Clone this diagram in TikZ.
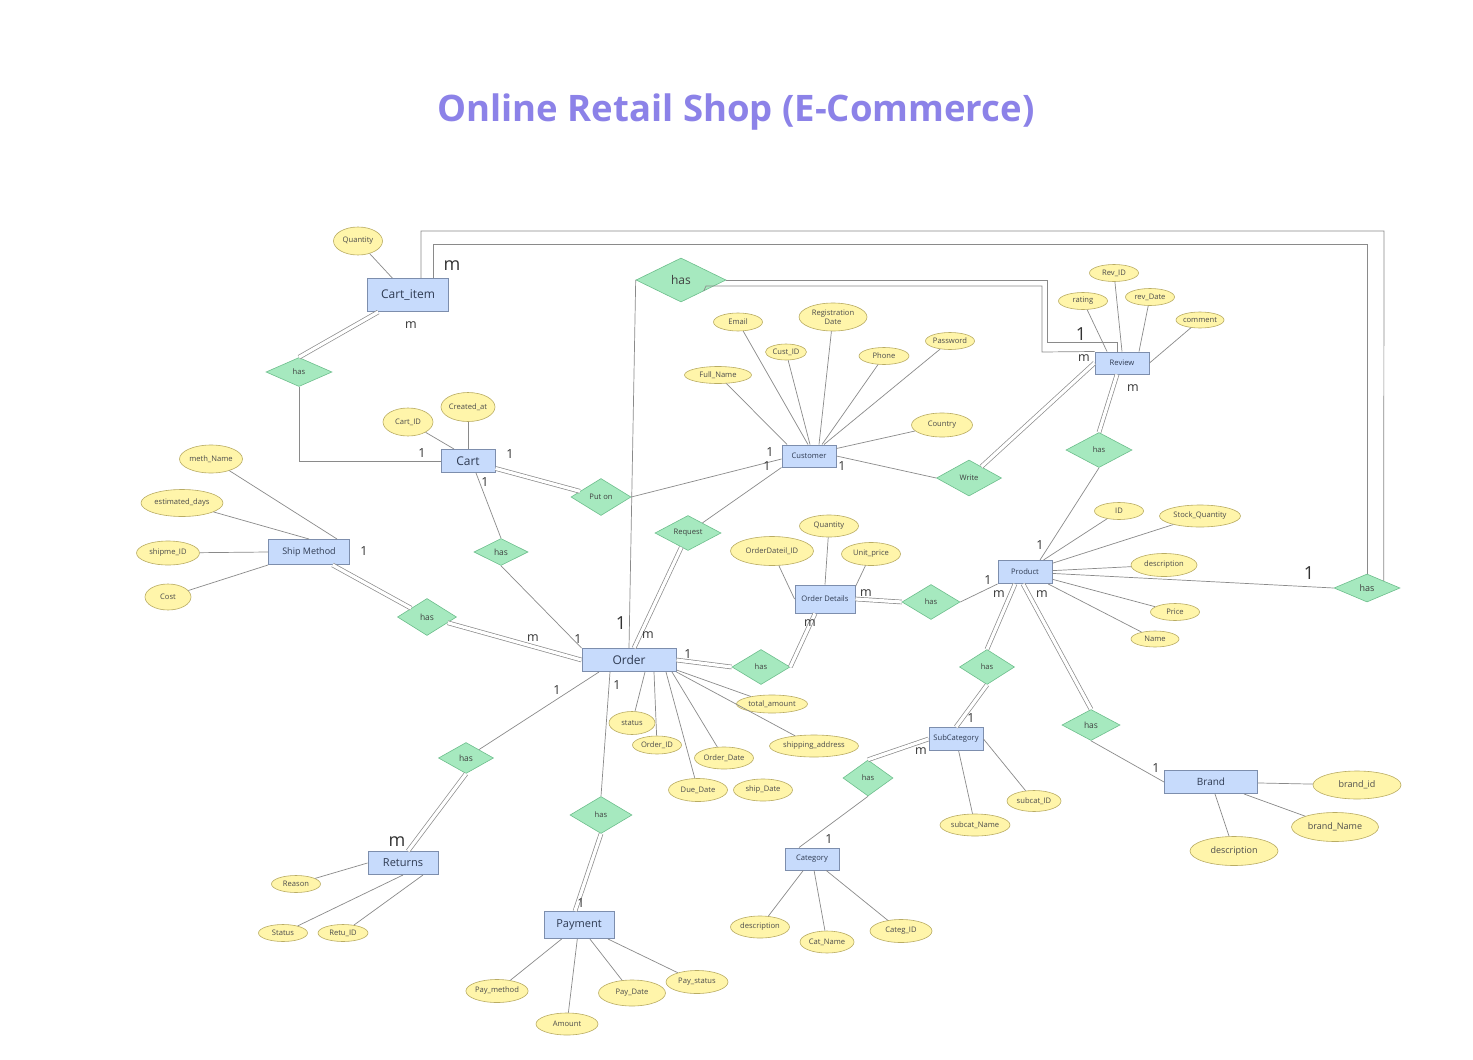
\documentclass[tikz,border=0pt]{standalone}
\usepackage{fontspec}
\setmainfont{Open Sans}
\usetikzlibrary{shapes.geometric,calc}
\definecolor{entfill}{HTML}{C7DBFC}
\definecolor{entdraw}{HTML}{7D8EAD}
\definecolor{relfill}{HTML}{A6E9BF}
\definecolor{reldraw}{HTML}{6DBE8C}
\definecolor{attfill}{HTML}{FFF5AA}
\definecolor{attdraw}{HTML}{B9AC63}
\definecolor{linkgray}{HTML}{8A8A8A}
\definecolor{titlepurple}{HTML}{8C82E8}
\definecolor{inkdark}{HTML}{2F3B52}

\begin{document}
\begin{tikzpicture}[x=1pt,y=-1pt,
  entity/.style 2 args={draw=entdraw, line width=1pt, fill=entfill, minimum width=#1, minimum height=#2, inner sep=0pt, text=inkdark},
  rel/.style 2 args={diamond, aspect=3, draw=reldraw, line width=0.6pt, fill=relfill, minimum width=#1, minimum height=#2, inner sep=0pt, text=black!75},
  attr/.style 2 args={ellipse, draw=attdraw, line width=0.6pt, fill=attfill, minimum width=#1, minimum height=#2, inner sep=0pt, text=black!70},
  link/.style={draw=linkgray, line width=0.7pt},
  dlink/.style={draw=linkgray, line width=0.7pt, double=white, double distance=3.2pt},
  card/.style={text=black!80, inner sep=0pt, font=\fontsize{12.5}{14}\selectfont},
  bigcard/.style={text=black!80, inner sep=0pt, font=\fontsize{18}{20}\selectfont},
  f7/.style={font=\fontsize{7.6}{9}\selectfont},
  f8/.style={font=\fontsize{8.5}{10}\selectfont},
  f9/.style={font=\fontsize{9}{11}\selectfont},
  f10/.style={font=\fontsize{10}{12}\selectfont},
  f11/.style={font=\fontsize{11}{13}\selectfont},
  f12/.style={font=\fontsize{12}{14}\selectfont}]

\useasboundingbox[fill=white] (0,0) rectangle (1473,1060);

\node[text=titlepurple, font=\fontsize{36.5}{44}\selectfont\bfseries] (title) at (736,112) {Online Retail Shop (E-Commerce)};

% entities
\node[entity={81}{33}, f12] (cartitem) at (408,295) {Cart\_item};
\node[entity={54}{23}, f12] (cart) at (468,461) {Cart};
\node[entity={54}{22}, f7] (customer) at (809,456) {Customer};
\node[entity={54}{22}, f7] (review) at (1122,363) {Review};
\node[entity={81}{25}, f9] (shipmethod) at (309,552) {Ship Method};
\node[entity={94}{23}, f12] (order) at (629,660) {Order};
\node[entity={60}{28}, f7] (orderdetails) at (825,599) {Order Details};
\node[entity={54}{23}, f7] (product) at (1025,572) {Product};
\node[entity={54}{23}, f7] (subcategory) at (956,739) {SubCategory};
\node[entity={54}{22}, f7] (category) at (812,859) {Category};
\node[entity={93}{23}, f10] (brand) at (1211,782) {Brand};
\node[entity={70}{23}, f11] (returns) at (403,863) {Returns};
\node[entity={70}{27}, f11] (payment) at (579,925) {Payment};

% relationships
\node[rel={90}{44}, f12] (hasrev) at (681,280) {has};
\node[rel={66}{29}, f7] (hascart) at (299,372) {has};
\node[rel={60}{37}, f7] (puton) at (601,497) {Put on};
\node[rel={66}{35}, f7] (request) at (688,533) {Request};
\node[rel={65}{36}, f7] (write) at (969,478) {Write};
\node[rel={66}{35}, f7] (hasreview) at (1099,450) {has};
\node[rel={59}{37}, f8] (hasship) at (427,617) {has};
\node[rel={54}{27}, f8] (hascartorder) at (501,552) {has};
\node[rel={58}{35}, f7] (hasdetails) at (761,667) {has};
\node[rel={58}{35}, f7] (hasprod) at (931,602) {has};
\node[rel={55}{35}, f7] (hassub) at (987,667) {has};
\node[rel={58}{31}, f8] (hasbrand) at (1091,725) {has};
\node[rel={66}{28}, f9] (hasitem) at (1367,588) {has};
\node[rel={50}{36}, f7] (hascat) at (868,778) {has};
\node[rel={55}{31}, f8] (hasreturn) at (466,758) {has};
\node[rel={62}{37}, f7] (haspay) at (601,815) {has};

% attributes
\node[attr={49}{28}, f7] (ciqty) at (358,241) {Quantity};
\node[attr={50}{28}, f7] (cartid) at (408,422) {Cart\_ID};
\node[attr={54}{29}, f7] (createdat) at (468,407) {Created\_at};
\node[attr={49}{18}, f7] (email) at (738,322) {Email};
\node[attr={68}{28}, f7, align=center] (regdate) at (833,317) {Registration\\Date};
\node[attr={41}{16}, f7] (custid) at (786,352) {Cust\_ID};
\node[attr={50}{17}, f7] (phone) at (884,356) {Phone};
\node[attr={49}{17}, f7] (password) at (950,341) {Password};
\node[attr={67}{17}, f7] (fullname) at (718,375) {Full\_Name};
\node[attr={61}{24}, f7] (country) at (942,425) {Country};
\node[attr={49}{17}, f7] (revid) at (1114,273) {Rev\_ID};
\node[attr={49}{17}, f7] (rating) at (1083,301) {rating};
\node[attr={49}{17}, f7] (revdate) at (1150,297) {rev\_Date};
\node[attr={48}{16}, f7] (comment) at (1200,320) {comment};
\node[attr={49}{17}, f7] (prodid) at (1119,511) {ID};
\node[attr={81}{22}, f7] (stockqty) at (1200,516) {Stock\_Quantity};
\node[attr={66}{23}, f7] (proddesc) at (1164,565) {description};
\node[attr={49}{17}, f7] (price) at (1175,612) {Price};
\node[attr={48}{16}, f7] (prodname) at (1155,639) {Name};
\node[attr={54}{21}, f7] (subcatid) at (1034,801) {subcat\_ID};
\node[attr={70}{22}, f7] (subcatname) at (975,825) {subcat\_Name};
\node[attr={88}{28}, f9] (brandid) at (1357,785) {brand\_id};
\node[attr={87}{29}, f9] (brandname) at (1335,827) {brand\_Name};
\node[attr={88}{29}, f9] (branddesc) at (1234,851) {description};
\node[attr={63}{28}, f7] (methname) at (211,459) {meth\_Name};
\node[attr={82}{27}, f7] (estdays) at (182,503) {estimated\_days};
\node[attr={63}{24}, f7] (shipmeid) at (168,553) {shipme\_ID};
\node[attr={46}{26}, f7] (cost) at (168,597) {Cost};
\node[attr={83}{29}, f7] (odid) at (772,551) {OrderDateil\_ID};
\node[attr={59}{22}, f7] (odqty) at (829,526) {Quantity};
\node[attr={59}{23}, f7] (unitprice) at (871,554) {Unit\_price};
\node[attr={71}{18}, f7] (totalamt) at (772,704) {total\_amount};
\node[attr={46}{23}, f7] (status) at (632,723) {status};
\node[attr={49}{18}, f7] (orderid) at (657,745) {Order\_ID};
\node[attr={59}{22}, f7] (orderdate) at (724,758) {Order\_Date};
\node[attr={89}{22}, f7] (shipaddr) at (814,746) {shipping\_address};
\node[attr={59}{23}, f7] (duedate) at (698,790) {Due\_Date};
\node[attr={59}{22}, f7] (shipdate) at (763,790) {ship\_Date};
\node[attr={49}{17}, f7] (reason) at (296,884) {Reason};
\node[attr={49}{17}, f7] (retstatus) at (283,933) {Status};
\node[attr={50}{17}, f7] (retuid) at (343,933) {Retu\_ID};
\node[attr={62}{23}, f7] (paymethod) at (497,991) {Pay\_method};
\node[attr={62}{22}, f7] (amount) at (567,1024) {Amount};
\node[attr={67}{26}, f7] (paydate) at (632,993) {Pay\_Date};
\node[attr={62}{23}, f7] (paystatus) at (697,982) {Pay\_status};
\node[attr={59}{22}, f7] (catdesc) at (760,927) {description};
\node[attr={54}{22}, f7] (catname) at (827,942) {Cat\_Name};
\node[attr={62}{23}, f7] (categid) at (901,931) {Categ\_ID};

% attribute lines
\draw[link] (ciqty) -- (cartitem);
\draw[link] (cartid) -- ([xshift=-14pt]cart.north);
\draw[link] (createdat) -- (cart.north);
\draw[link] (fullname) -- ([xshift=-22pt]customer.north);
\draw[link] (email) -- ([xshift=-1pt]customer.north);
\draw[link] (custid) -- ([xshift=1pt]customer.north);
\draw[link] (regdate) -- ([xshift=10pt]customer.north);
\draw[link] (phone) -- ([xshift=13pt]customer.north);
\draw[link] (password) -- ([xshift=15pt]customer.north);
\draw[link] (country) -- ([yshift=-4pt]customer.north east);
\draw[link] (rating) -- ([xshift=-15pt]review.north);
\draw[link] (revid) -- (review.north);
\draw[link] (revdate) -- ([xshift=17pt]review.north);
\draw[link] (comment) -- (review.east);
\foreach \a in {prodid,stockqty,proddesc,price,prodname}
  \draw[link] (\a) -- (product);
\draw[link] (subcatid) -- (subcategory.east);
\draw[link] (subcatname) -- (subcategory);
\foreach \a in {brandid,brandname,branddesc}
  \draw[link] (\a) -- (brand);
\draw[link] (methname) -- ([xshift=28pt]shipmethod.north);
\draw[link] (estdays) -- (shipmethod.north);
\draw[link] (shipmeid) -- (shipmethod.west);
\draw[link] (cost) -- (shipmethod.south west);
\draw[link] (odid) -- (orderdetails.west);
\draw[link] (odqty) -- (orderdetails.north);
\draw[link] (unitprice) -- ([yshift=-2pt]orderdetails.north east);
\draw[link] (status) -- ([xshift=16pt]order.south);
\draw[link] (orderid) -- ([xshift=25pt]order.south);
\draw[link] (duedate) -- ([xshift=37pt]order.south);
\draw[link] (orderdate) -- ([xshift=43pt]order.south);
\draw[link] (shipaddr) -- (order.south east);
\draw[link] (totalamt) -- ([yshift=2pt]order.south east);
\draw[link] (reason) -- (returns.west);
\draw[link] (retstatus) -- (returns.south);
\draw[link] (retuid) -- ([xshift=20pt]returns.south);
\foreach \a in {paymethod,amount,paydate,paystatus}
  \draw[link] (\a) -- (payment);
\foreach \a in {catdesc,catname,categid}
  \draw[link] (\a) -- (category);

% relationship lines
\draw[dlink] (cartitem) -- (hascart.north);
\draw[link] (hascart.south) |- (cart.west);
\draw[dlink] (cart) -- (puton);
\draw[link] ([xshift=8pt]cart.south) -- (hascartorder.north);
\draw[link] (hascartorder.south) -- (order.north west);
\draw[link] (puton.east) -- ([yshift=-3pt]customer.west);
\draw[link] (request) -- (customer.south west);
\draw[dlink] (request) -- ([xshift=5pt]order.north);
\draw[link] (hasrev.west) -- (order.north);
\draw[link] (hasrev.east) -| (1047,342) -| ([xshift=-5pt]review.north);
\draw[link] ($(hasrev.east)!0.5!(hasrev.south)$) -- (706,286) -| (1042,352) -- (review.north west);
\draw[link] ([xshift=13pt]cartitem.north) |- (1384,231) -- (hasitem.north east);
\draw[link] ([xshift=25pt]cartitem.north) |- (1367,244) -- (hasitem.north);
\draw[link] (product) -- (hasitem.west);
\draw[link] (customer.east) -- (write.west);
\draw[dlink] (write) -- (review.west);
\draw[dlink] ([xshift=-5pt]review.south) -- (hasreview.north);
\draw[link] (hasreview.south) -- ([xshift=15pt]product.north);
\draw[link] (hasprod.east) -- (product.south west);
\draw[dlink] (hasprod.west) -- (orderdetails.east);
\draw[dlink] ([xshift=-10pt]orderdetails.south) -- (hasdetails.east);
\draw[dlink] (hasdetails.west) -- (order.east);
\draw[dlink] ([xshift=-10pt]product.south) -- (hassub.north);
\draw[dlink] (hassub.south) -- (subcategory.north);
\draw[dlink] ([xshift=-2pt]product.south) -- (hasbrand.north);
\draw[link] (hasbrand.south) -- (brand.west);
\draw[dlink] (subcategory.west) -- (hascat.north);
\draw[link] (hascat.south) -- ([xshift=-13pt]category.north);
\draw[dlink] (shipmethod) -- (hasship);
\draw[dlink] (hasship) -- (order.west);
\draw[link] ([xshift=-30pt]order.south) -- (hasreturn);
\draw[dlink] (hasreturn.south) -- ([xshift=5pt]returns.north);
\draw[link] ([xshift=-19pt]order.south) -- (haspay.north);
\draw[dlink] (haspay.south) -- ([xshift=-4pt]payment.north);

% cardinalities
\node[bigcard] (c1) at (452,266) {m};
\node[card] (c2) at (411,325) {m};
\node[card] (c3) at (422,453) {1};
\node[card] (c4) at (510,454) {1};
\node[card] (c5) at (485,482) {1};
\node[card] (c6) at (770,452) {1};
\node[card] (c7) at (767,466) {1};
\node[card] (c8) at (842,466) {1};
\node[bigcard] (c9) at (1081,334) {1};
\node[card] (c10) at (1084,358) {m};
\node[card] (c11) at (1133,388) {m};
\node[card] (c12) at (1040,545) {1};
\node[bigcard] (c13) at (1309,573) {1};
\node[card] (c14) at (988,580) {1};
\node[card] (c15) at (999,594) {m};
\node[card] (c16) at (1042,594) {m};
\node[card] (c17) at (866,593) {m};
\node[card] (c18) at (810,623) {m};
\node[card] (c19) at (688,654) {1};
\node[bigcard] (c20) at (621,623) {1};
\node[card] (c21) at (648,635) {m};
\node[card] (c22) at (533,638) {m};
\node[card] (c23) at (578,639) {1};
\node[card] (c24) at (364,551) {1};
\node[card] (c25) at (557,690) {1};
\node[card] (c26) at (617,685) {1};
\node[bigcard] (c27) at (397,842) {m};
\node[card] (c28) at (581,903) {1};
\node[card] (c29) at (971,718) {1};
\node[card] (c30) at (921,751) {m};
\node[card] (c31) at (1156,768) {1};
\node[card] (c32) at (829,839) {1};

\end{tikzpicture}
\end{document}
